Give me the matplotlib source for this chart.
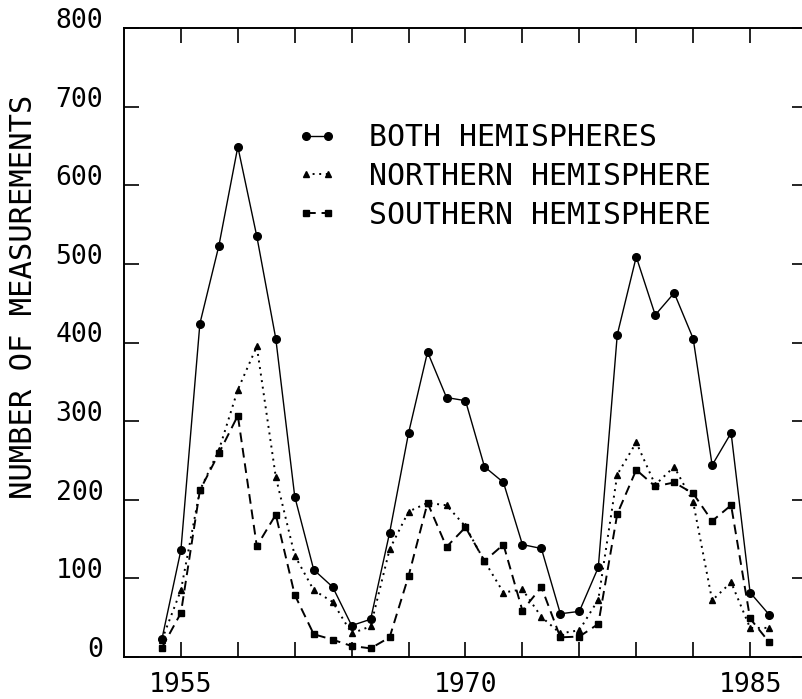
import matplotlib
matplotlib.use("Agg")
import matplotlib.pyplot as plt
from matplotlib.ticker import MultipleLocator, FixedLocator

plt.rcParams["font.family"] = ["DejaVu Sans Mono"]

# yearly counts of measurements, 1954-1986
YEARS = [1954, 1955, 1956, 1957, 1958, 1959, 1960, 1961, 1962, 1963, 1964,
         1965, 1966, 1967, 1968, 1969, 1970, 1971, 1972, 1973, 1974, 1975,
         1976, 1977, 1978, 1979, 1980, 1981, 1982, 1983, 1984, 1985, 1986]
BOTH = [23, 136, 424, 523, 649, 535, 405, 204, 111, 89, 40,
        48, 158, 285, 388, 330, 326, 242, 222, 143, 138, 55,
        58, 114, 410, 509, 435, 463, 405, 244, 285, 82, 54]
NORTH = [22, 85, 212, 263, 340, 395, 229, 129, 85, 70, 30,
         39, 137, 185, 196, 193, 166, 122, 82, 86, 51, 30,
         34, 73, 232, 273, 219, 242, 197, 72, 95, 37, 37]
SOUTH = [12, 56, 212, 259, 307, 141, 181, 79, 29, 22, 14,
         11, 25, 103, 196, 140, 165, 122, 143, 59, 89, 25,
         26, 42, 182, 238, 217, 222, 208, 173, 193, 49, 19]

LABELS = ["BOTH HEMISPHERES", "NORTHERN HEMISPHERE", "SOUTHERN HEMISPHERE"]
XLABELED = [1955, 1970, 1985]
XTICKS = [1955, 1958, 1961, 1964, 1967, 1970, 1973, 1976, 1979, 1982, 1985]

W, H = 803, 699
fig = plt.figure(figsize=(W / 100, H / 100), dpi=100)
ax = fig.add_axes([124 / W, 42 / H, 683 / W, 629 / H])

ax.plot(YEARS, BOTH, color="k", lw=1.0, marker="o", ms=5.5, label=LABELS[0])
ax.plot(YEARS, NORTH, color="k", lw=1.4, ls=(0, (1, 2.4)), marker="^", ms=5,
        label=LABELS[1])
ax.plot(YEARS, SOUTH, color="k", lw=1.4, ls=(0, (5, 3)), marker="s", ms=5,
        label=LABELS[2])

ax.set_xlim(1952, 1988)
ax.set_ylim(0, 800)
ax.xaxis.set_major_locator(FixedLocator(XLABELED))
ax.xaxis.set_minor_locator(FixedLocator(XTICKS))
ax.yaxis.set_major_locator(MultipleLocator(100))
ax.tick_params(which="both", direction="in", length=11, width=1.2,
               top=True, right=True, colors="k")
ax.tick_params(axis="x", which="major", labelsize=19, pad=11)
ax.tick_params(axis="y", labelsize=19, pad=15)
for t in ax.get_yticklabels():
    t.set_verticalalignment("baseline")
for s in ax.spines.values():
    s.set_linewidth(1.4)

fig.text(24 / W, 1 - 297 / H, "NUMBER OF MEASUREMENTS", rotation=90,
         ha="center", va="center", fontsize=22)

ax.legend(loc="upper left", bbox_to_anchor=(297 / W, 1 - 123 / H),
          bbox_transform=fig.transFigure, frameon=False, fontsize=21.5,
          numpoints=2, handlelength=1.35, handletextpad=1.05,
          labelspacing=0.33, borderpad=0, borderaxespad=0)

fig.savefig("out.png", dpi=100)
